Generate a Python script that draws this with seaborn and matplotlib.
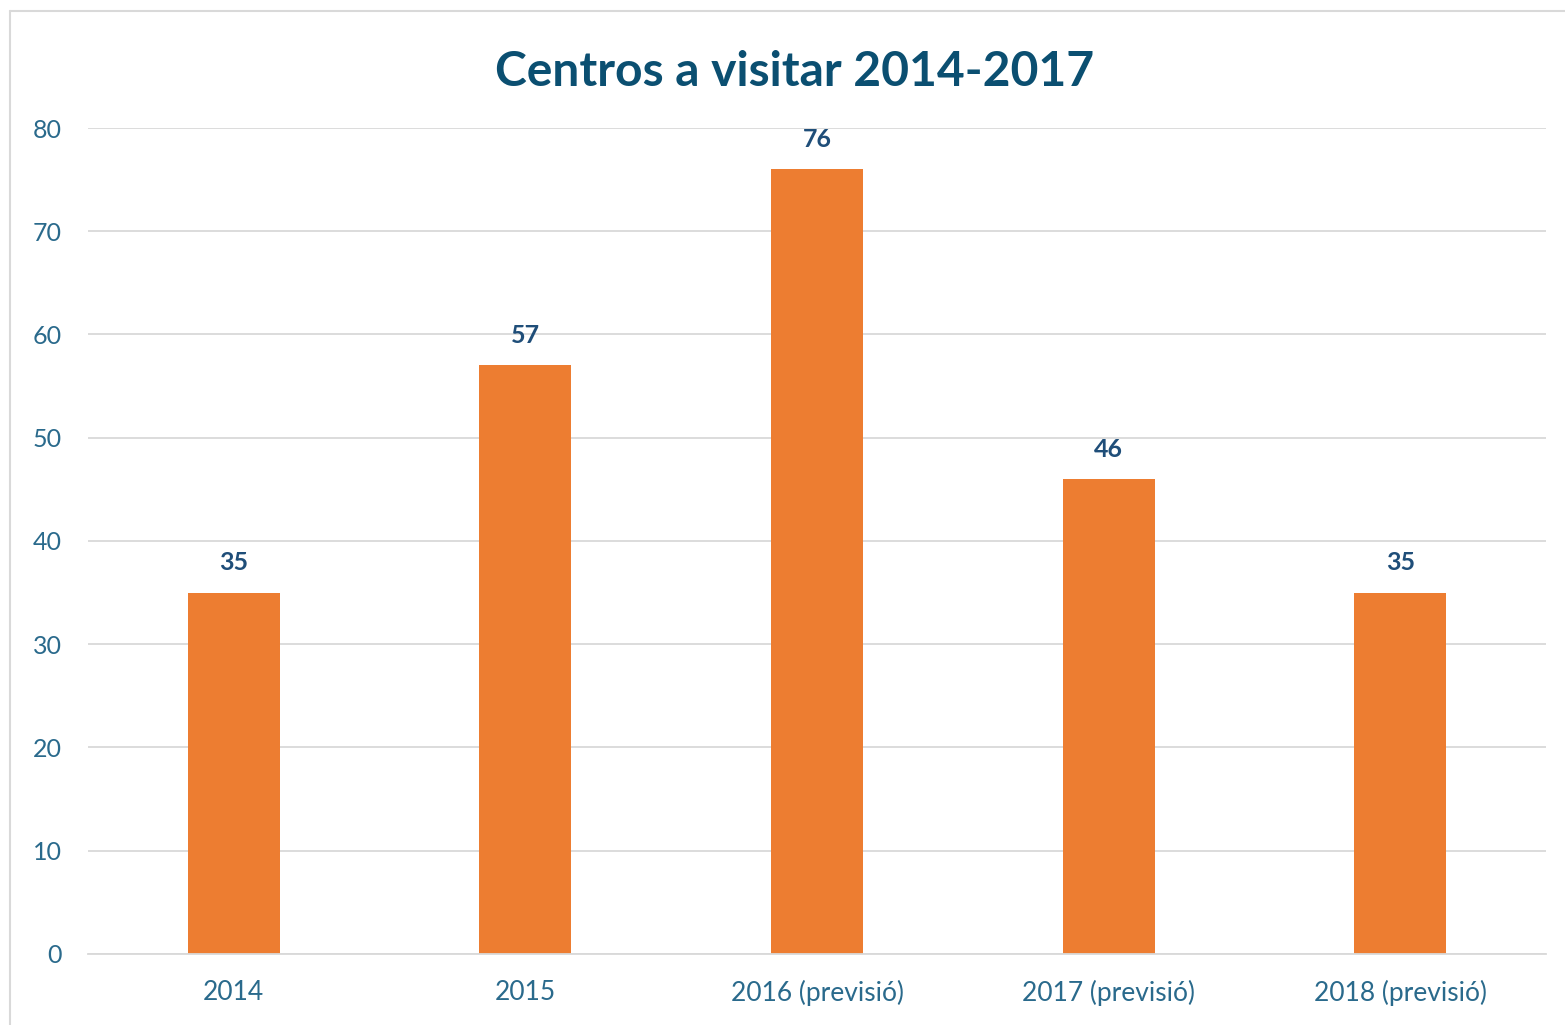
import matplotlib
matplotlib.use("Agg")
import matplotlib.pyplot as plt
import seaborn as sns
import pandas as pd
from matplotlib.lines import Line2D

categories = ["2014", "2015", "2016 (previsió)", "2017 (previsió)", "2018 (previsió)"]
values = [35, 57, 76, 46, 35]
yticks = [0, 10, 20, 30, 40, 50, 60, 70, 80]
title = "Centros a visitar 2014-2017"

sns.set_theme(style="white")
plt.rcParams['font.family'] = ['Lato', 'DejaVu Sans']

df = pd.DataFrame({"cat": categories, "val": values})

fig = plt.figure(figsize=(15.65, 10.25), dpi=100)
ax = fig.add_axes([0.0562, 0.0695, 0.9317, 0.8056])

sns.barplot(data=df, x="cat", y="val", color="#ED7D31", width=0.316,
            saturation=1, ax=ax, edgecolor="none")

ax.set_ylim(0, 80)
ax.set_xlim(-0.5, 4.5)
ax.set_yticks(yticks)
ax.yaxis.grid(True, color="#D9D9D9", linewidth=1.3)
ax.set_axisbelow(True)
for s in ["top", "right", "left"]:
    ax.spines[s].set_visible(False)
ax.spines["bottom"].set_color("#D9D9D9")
ax.spines["bottom"].set_linewidth(1.3)
ax.set_xlabel("")
ax.set_ylabel("")
ax.tick_params(axis="y", length=0, pad=19, labelsize=18, labelcolor="#2A6A8C")
ax.tick_params(axis="x", length=0, pad=19, labelsize=19, labelcolor="#2A6A8C")

for c in ax.containers:
    ax.bar_label(c, labels=[str(v) for v in values], padding=13,
                 fontsize=18, fontweight="bold", color="#1F4E79")

fig.text(0.508, 0.93, title, ha="center", va="center", fontsize=34.6,
         fontweight="bold", color="#0B4F71")

# outer chart border (left and top visible)
fig.add_artist(Line2D([10/1565, 10/1565], [0, 1 - 11/1025], transform=fig.transFigure,
                      color="#D9D9D9", linewidth=1.5))
fig.add_artist(Line2D([10/1565, 1], [1 - 11/1025, 1 - 11/1025], transform=fig.transFigure,
                      color="#D9D9D9", linewidth=1.5))

fig.savefig("out.png", dpi=100, facecolor="white")
